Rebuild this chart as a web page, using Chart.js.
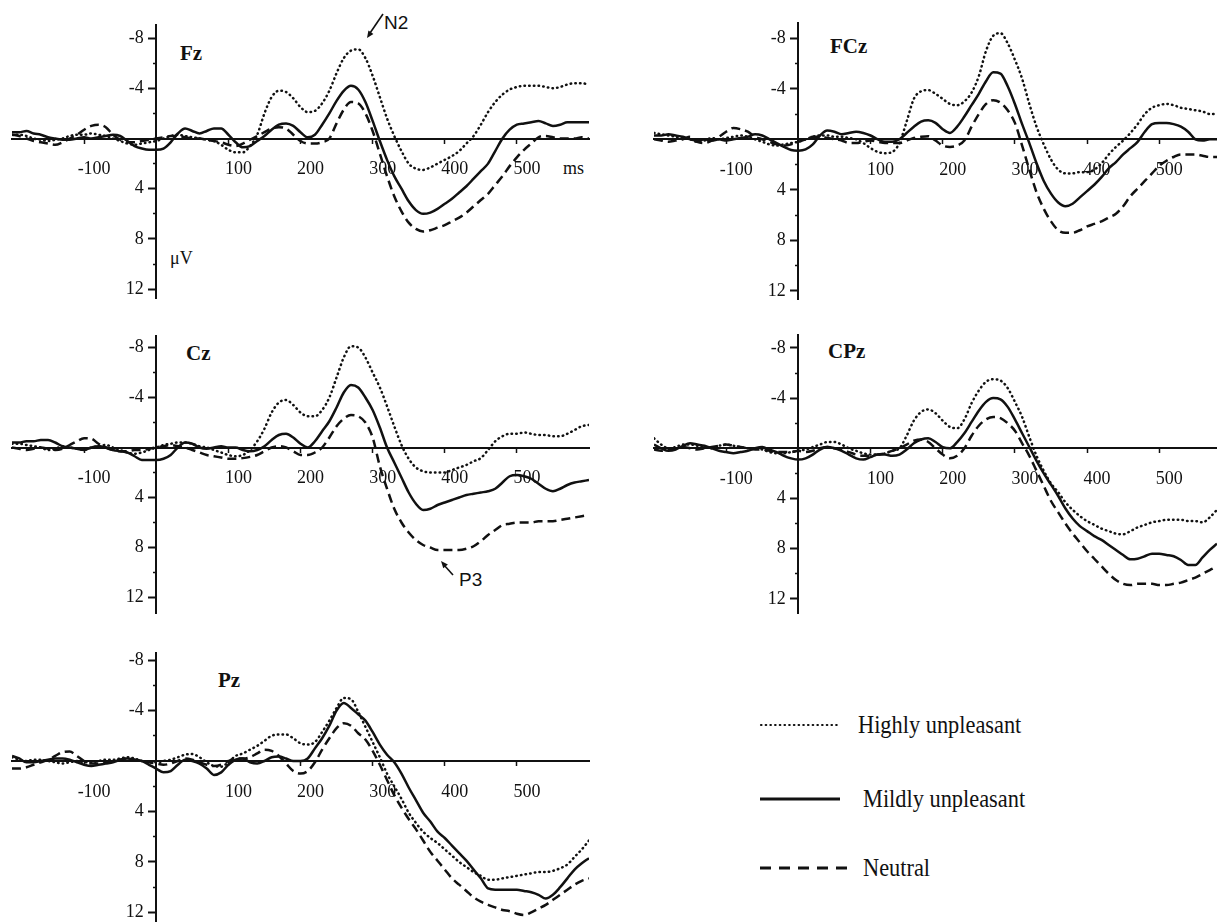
<!DOCTYPE html>
<html>
<head>
<meta charset="utf-8">
<title>ERP waveforms</title>
<script src="https://cdn.jsdelivr.net/npm/chart.js@4.4.1/dist/chart.umd.min.js"></script>
<style>
  html, body { margin: 0; padding: 0; background: #fff; }
  body { width: 1217px; height: 922px; position: relative; overflow: hidden;
         font-family: "Liberation Serif", "Times New Roman", serif; color: #111; }
  canvas { position: absolute; }
  .txt { position: absolute; white-space: nowrap; line-height: 1; transform: translateY(-50%); }
  .site { font-weight: bold; font-size: 21px; }
  .unit { font-size: 18px; }
  .note { font-family: "Liberation Sans", Arial, sans-serif; font-size: 19px; }
  .leg { font-size: 26px; transform: translateY(-50%) scaleX(0.86); transform-origin: left center; }
  svg { position: absolute; left: 0; top: 0; }
</style>
</head>
<body>

<div class="txt site" style="left:180px; top:53px;">Fz</div>
<div class="txt site" style="left:830px; top:46px;">FCz</div>
<div class="txt site" style="left:186px; top:353px;">Cz</div>
<div class="txt site" style="left:828px; top:351px;">CPz</div>
<div class="txt site" style="left:218px; top:680px;">Pz</div>

<div class="txt unit" style="left:170px; top:258px;">μV</div>
<div class="txt unit" style="left:563px; top:168px;">ms</div>

<div class="txt note" style="left:384px; top:22px;">N2</div>
<div class="txt note" style="left:459px; top:579px;">P3</div>

<div class="txt leg" style="left:858px; top:725px;">Highly unpleasant</div>
<div class="txt leg" style="left:863px; top:799px;">Mildly unpleasant</div>
<div class="txt leg" style="left:863px; top:868px;">Neutral</div>

<svg width="1217" height="922">
  <!-- annotation arrows -->
  <line x1="383" y1="14" x2="370" y2="33" stroke="#111" stroke-width="1.6"/>
  <polygon points="367,38 373.4,33.9 368.4,30.5" fill="#111"/>
  <line x1="453" y1="575" x2="444" y2="565" stroke="#111" stroke-width="1.6"/>
  <polygon points="441,561 447.9,564.4 443.3,568.3" fill="#111"/>
  <!-- legend samples -->
  <line x1="761" y1="725" x2="840" y2="725" stroke="#111" stroke-width="2.2" stroke-dasharray="0.5 4.2" stroke-linecap="round"/>
  <line x1="760" y1="799" x2="840" y2="799" stroke="#111" stroke-width="3"/>
  <line x1="760" y1="868" x2="847" y2="868" stroke="#111" stroke-width="3" stroke-dasharray="11 8"/>
</svg>

<canvas id="fz"></canvas>
<canvas id="fcz"></canvas>
<canvas id="cz"></canvas>
<canvas id="cpz"></canvas>
<canvas id="pz"></canvas>

<script>
// ── Data (µV, negative plotted upward) ───────────────────────────────────────
const TIME = [
  -200,-190,-180,-170,-160,-150,-140,-130,-120,-110,
  -100,-90,-80,-70,-60,-50,-40,-30,-20,-10,
  0,10,20,30,40,50,60,70,80,90,
  100,110,120,130,140,150,160,170,180,190,
  200,210,220,230,240,250,260,270,280,290,
  300,310,320,330,340,350,360,370,380,390,
  400,410,420,430,440,450,460,470,480,490,
  500,510,520,530,540,550,560,570,580,590,
  600
];
const X_TICKS = [-100, 100, 200, 300, 400, 500];
const Y_TICKS = [-8, -4, 4, 8, 12];
const Y_MINOR = [-6, -2, 2, 6, 10];
const SERIES = ['Highly unpleasant', 'Mildly unpleasant', 'Neutral'];

const FZ_HIGH = [
  -0.3,-0.3,-0.2,0,0.1,0.2,0.1,0,-0.2,-0.3,
  -0.3,-0.4,-0.3,-0.2,0,0.2,0.4,0.5,0.4,0.3,
  0.2,0,-0.2,-0.3,-0.2,-0.1,0,0.1,0.2,0.5,
  0.9,1.1,1.1,0.6,-0.3,-2.0,-3.3,-3.8,-3.7,-3.2,
  -2.5,-2.1,-2.2,-2.8,-3.8,-5.2,-6.4,-7.0,-7.1,-6.4,
  -5.0,-3.3,-1.6,-0.2,1.0,2.0,2.4,2.5,2.3,2.0,
  1.7,1.4,1.0,0.4,-0.2,-1.1,-2.1,-2.9,-3.5,-3.9,
  -4.1,-4.2,-4.2,-4.2,-4.1,-4.0,-4.1,-4.3,-4.4,-4.4,
  -4.3
];
const FZ_MILD = [
  -0.5,-0.5,-0.6,-0.4,-0.3,-0.1,0,0.1,0.1,0,
  -0.1,0,-0.1,-0.2,-0.3,-0.2,0.2,0.6,0.8,0.9,
  0.9,0.8,0.3,-0.4,-0.8,-0.6,-0.4,-0.6,-0.8,-0.8,
  -0.3,0.3,0.7,0.6,0.2,-0.2,-0.7,-1.1,-1.2,-1.0,
  -0.5,-0.1,-0.3,-1.1,-2.0,-3.0,-3.8,-4.2,-3.9,-2.9,
  -1.4,0.2,1.7,3.0,4.0,5.0,5.7,6.0,5.9,5.6,
  5.2,4.8,4.3,3.8,3.2,2.6,2.0,1.0,0.0,-0.7,
  -1.1,-1.2,-1.3,-1.4,-1.2,-1.0,-1.1,-1.3,-1.3,-1.3,
  -1.3
];
const FZ_NEUT = [
  -0.3,-0.2,0,0.2,0.3,0.4,0.5,0.3,0,-0.3,
  -0.7,-1.0,-1.1,-0.9,-0.3,0.1,0.3,0.3,0.2,0.1,
  0,-0.1,-0.2,-0.2,-0.1,0,0,0.1,0.2,0.3,
  0.5,0.6,0.4,0.1,-0.2,-0.5,-0.8,-0.9,-0.8,-0.3,
  0.2,0.4,0.4,0.3,0,-1.2,-2.3,-2.9,-2.8,-2.0,
  -0.6,1.2,3.0,4.6,5.8,6.7,7.2,7.4,7.3,7.1,
  6.9,6.6,6.3,5.9,5.4,4.9,4.4,3.7,3.0,2.2,
  1.5,0.9,0.4,-0.1,-0.2,-0.1,0,0,0,-0.1,
  0
];

// FCz and CPz are cut at the right edge (~580 ms)
const FCZ_HIGH = [
  -0.5,-0.4,-0.3,-0.2,-0.1,0,0.2,0.1,-0.1,0,
  -0.1,-0.2,-0.3,-0.2,0,0.2,0.4,0.5,0.4,0.3,
  0.2,0,-0.2,-0.3,-0.3,-0.2,-0.2,-0.1,0,0.3,
  0.7,1.0,1.1,1.0,0.3,-1.4,-3.2,-3.8,-3.9,-3.6,
  -3.2,-2.8,-2.7,-3.0,-3.7,-5.0,-7.0,-8.2,-8.4,-7.6,
  -6.3,-4.8,-2.8,-1.0,0.4,1.6,2.4,2.7,2.7,2.6,
  2.6,2.4,1.9,1.2,0.6,0.1,-0.5,-1.2,-2.0,-2.5,
  -2.7,-2.8,-2.7,-2.5,-2.4,-2.3,-2.2,-2.0,-2.0
];
const FCZ_MILD = [
  -0.3,-0.3,-0.4,-0.3,-0.2,0,0.1,0,0.1,0,
  0.1,0,-0.1,-0.2,-0.4,-0.3,0,0.3,0.6,0.85,
  0.9,0.8,0.4,-0.3,-0.7,-0.6,-0.4,-0.5,-0.6,-0.5,
  -0.3,0,0.2,0.2,0,-0.5,-1.0,-1.4,-1.5,-1.3,
  -0.8,-0.5,-1.0,-1.8,-2.7,-3.6,-4.6,-5.3,-5.2,-4.2,
  -2.8,-1.2,0.3,1.9,3.3,4.3,5.0,5.3,5.1,4.6,
  4.1,3.6,3.0,2.3,1.8,1.2,0.7,0.2,-0.6,-1.2,
  -1.3,-1.3,-1.2,-1.0,-0.6,0,0.1,0,0
];
const FCZ_NEUT = [
  0,0.1,0.2,0.1,0,-0.2,0.2,0.3,0.1,-0.2,
  -0.6,-0.9,-0.8,-0.6,-0.2,0,0.2,0.4,0.5,0.4,
  0.2,0,-0.2,-0.2,-0.1,0,0.1,0.3,0.3,0.2,
  0.1,0.2,0.3,0.3,0.3,0.1,-0.1,-0.2,-0.25,0.1,
  0.5,0.6,0.5,0.1,-1.0,-2.0,-2.8,-3.1,-2.9,-2.3,
  -1.3,0.5,2.4,4.2,5.5,6.5,7.2,7.4,7.4,7.2,
  6.9,6.7,6.5,6.2,5.9,5.3,4.5,3.9,3.3,2.7,
  2.1,1.7,1.4,1.2,1.2,1.2,1.3,1.4,1.4
];

const CZ_HIGH = [
  -0.3,-0.3,-0.2,-0.1,0,0.2,0.1,-0.1,0,0.1,
  0.2,0,-0.1,-0.2,0,0.2,0.4,0.5,0.4,0.2,
  0,-0.2,-0.3,-0.4,-0.4,-0.3,-0.1,0,0.2,0.4,
  0.6,0.7,0.6,0.2,-0.5,-1.5,-2.8,-3.6,-3.8,-3.4,
  -2.8,-2.5,-2.5,-3.0,-4.0,-5.6,-7.2,-8.1,-8.0,-7.2,
  -6.0,-4.8,-3.3,-1.7,-0.2,0.9,1.6,1.9,2.0,2.0,
  2.0,1.8,1.6,1.4,1.1,0.85,0.2,-0.5,-0.9,-1.1,
  -1.1,-1.2,-1.1,-1.0,-1.0,-0.9,-0.9,-1.1,-1.4,-1.7,
  -1.8
];
const CZ_MILD = [
  -0.4,-0.4,-0.5,-0.5,-0.6,-0.6,-0.4,-0.1,0,0.1,
  0.2,0,-0.1,0,0.2,0.3,0.4,0.7,1.0,1.0,
  1.0,0.9,0.6,0,-0.4,-0.3,0,0.1,0,-0.1,
  0,0,0.2,0.3,0.2,-0.1,-0.6,-1.0,-1.1,-0.8,
  -0.3,0,-0.5,-1.3,-2.1,-3.2,-4.4,-5.0,-4.8,-4.0,
  -3.0,-1.6,0,1.2,2.4,3.6,4.5,5.0,4.9,4.6,
  4.4,4.2,4.0,3.8,3.7,3.6,3.5,3.3,2.8,2.3,
  2.2,2.3,2.5,2.9,3.3,3.5,3.3,3.0,2.8,2.7,
  2.6
];
const CZ_NEUT = [
  0,0.1,0.2,0.1,0,0.1,0.2,0.1,-0.2,-0.5,
  -0.75,-0.7,-0.3,0,0.2,0.3,0.3,0.2,0.2,0.1,
  0,-0.1,-0.2,-0.1,0,0.2,0.4,0.6,0.7,0.8,
  0.9,0.9,0.85,0.75,0.6,0.3,0,-0.1,0,0.3,
  0.6,0.6,0.4,0,-0.8,-1.7,-2.3,-2.6,-2.5,-2.0,
  -0.8,1.5,3.3,4.9,6.0,6.8,7.4,7.8,8.0,8.2,
  8.2,8.2,8.2,8.1,7.9,7.5,7.0,6.6,6.2,6.1,
  6.0,6.0,6.0,5.9,5.9,5.9,5.8,5.7,5.6,5.5,
  5.4
];

const CPZ_HIGH = [
  -0.8,-0.3,0,-0.1,-0.3,-0.3,-0.2,-0.1,0,-0.2,
  -0.3,-0.2,-0.1,0,0,0.1,0.3,0.4,0.4,0.3,
  0.2,0.1,-0.1,-0.3,-0.5,-0.5,-0.3,0,0.2,0.4,
  0.5,0.5,0.4,0.2,0,-1.0,-2.2,-2.9,-3.1,-2.8,
  -2.2,-1.7,-1.6,-2.3,-3.6,-4.6,-5.3,-5.5,-5.4,-4.8,
  -3.7,-2.5,-0.9,0.6,1.8,2.8,3.5,4.3,4.9,5.4,
  5.8,6.1,6.4,6.6,6.8,6.85,6.6,6.3,6.1,5.9,
  5.8,5.7,5.7,5.7,5.8,5.8,5.9,5.5,4.9
];
const CPZ_MILD = [
  -0.3,0,0.2,0.1,-0.2,-0.4,-0.3,-0.2,0,0.2,
  0.3,0.4,0.3,0.2,0,-0.1,0.1,0.3,0.6,0.8,
  0.9,0.8,0.5,0.1,-0.1,0,0.2,0.5,0.8,0.9,
  0.7,0.5,0.5,0.6,0.5,0.1,-0.4,-0.7,-0.8,-0.5,
  -0.1,0,-0.5,-1.2,-2.1,-3.0,-3.7,-4.0,-3.9,-3.3,
  -2.3,-1.2,-0.1,1.0,2.0,2.9,3.8,4.8,5.6,6.2,
  6.6,7.0,7.3,7.7,8.1,8.5,8.85,8.8,8.6,8.4,
  8.4,8.5,8.6,8.9,9.3,9.3,8.7,8.1,7.6
];
const CPZ_NEUT = [
  0.1,0.2,0.1,0,-0.1,0,0.1,0,-0.1,-0.2,
  -0.3,-0.2,-0.1,0,0.1,0.1,0.2,0.3,0.3,0.3,
  0.2,0.3,0.2,0,-0.1,0,0.1,0.3,0.5,0.6,
  0.6,0.5,0.4,0.2,0,-0.3,-0.6,-0.7,-0.5,0,
  0.5,0.8,0.6,0,-1.0,-1.8,-2.3,-2.5,-2.4,-2.0,
  -1.4,-0.4,0.6,1.8,3.0,4.2,5.1,6.0,6.8,7.5,
  8.2,8.8,9.4,10.0,10.5,10.8,10.9,10.8,10.8,10.8,
  10.9,10.9,10.8,10.7,10.5,10.3,10.0,9.7,9.4
];

const PZ_HIGH = [
  -0.3,-0.1,0,-0.1,-0.1,0,0.1,0.2,0.1,0,
  0.1,0.1,0,-0.1,-0.1,-0.2,-0.3,-0.2,0,0.1,
  0.1,0,-0.1,-0.3,-0.5,-0.55,-0.3,0.1,0.4,0.45,
  0.1,-0.4,-0.6,-0.9,-1.2,-1.6,-2.0,-2.1,-2.1,-1.8,
  -1.4,-1.3,-1.5,-2.3,-3.2,-4.2,-5.0,-4.9,-3.9,-2.7,
  -1.5,-0.3,1.0,2.0,3.0,4.1,4.9,5.6,6.1,6.5,
  7.0,7.5,8.0,8.4,8.8,9.1,9.4,9.4,9.3,9.2,
  9.1,9.0,8.9,8.8,8.8,8.7,8.5,8.2,7.6,7.0,
  6.3
];
const PZ_MILD = [
  -0.4,-0.2,0.1,0.1,0,-0.1,-0.2,-0.2,-0.1,0.1,
  0.3,0.4,0.3,0.2,0.1,-0.1,-0.2,-0.1,0,0.3,
  0.6,0.9,0.8,0.3,-0.1,0,0.2,0.6,1.1,0.9,
  0.3,-0.1,-0.2,0.1,0.2,0,-0.3,-0.35,-0.2,0,
  0,-0.2,-1.0,-1.8,-2.8,-4.0,-4.6,-4.2,-3.7,-3.2,
  -2.3,-1.3,-0.5,0.1,1.0,2.1,3.1,4.1,4.8,5.6,
  6.1,6.7,7.3,7.9,8.6,9.3,10.1,10.2,10.2,10.2,
  10.2,10.3,10.4,10.6,10.9,10.6,10.0,9.3,8.6,8.1,
  7.7
];
const PZ_NEUT = [
  0.6,0.6,0.5,0.3,0.1,-0.1,-0.4,-0.7,-0.75,-0.4,
  0,0.2,0.2,0.1,0,-0.1,-0.2,-0.1,0,0.1,
  0.2,0.3,0.2,0,-0.2,-0.1,0.1,0.3,0.4,0.3,
  0,-0.2,-0.2,-0.3,-0.6,-0.9,-0.8,-0.4,0.2,0.8,
  1.0,0.8,0.1,-0.9,-1.8,-2.6,-3.0,-2.8,-2.2,-1.7,
  -0.8,0.3,1.5,2.7,3.7,4.6,5.4,6.3,7.2,7.9,
  8.6,9.3,9.8,10.3,10.8,11.15,11.4,11.6,11.8,11.9,
  12.1,12.2,12.0,11.7,11.4,11.0,10.6,10.2,9.8,9.5,
  9.3
];

// ── Panel layout (page pixels) ───────────────────────────────────────────────
// box: canvas [left, top, width, height]; area: plot area [left, top, right, bottom]
const PANELS = [
  { id: 'fz',  series: [FZ_HIGH, FZ_MILD, FZ_NEUT],    box: [0, 0, 600, 310],     area: [12, 25, 589, 298],     zeroY: 138.5, pxPerUv: 12.56, xMax: 600 },
  { id: 'fcz', series: [FCZ_HIGH, FCZ_MILD, FCZ_NEUT], box: [640, 0, 577, 310],   area: [654, 23, 1217, 299],   zeroY: 139.3, pxPerUv: 12.63, xMax: 580 },
  { id: 'cz',  series: [CZ_HIGH, CZ_MILD, CZ_NEUT],    box: [0, 320, 600, 300],   area: [12, 336, 589, 613],    zeroY: 447.5, pxPerUv: 12.5,  xMax: 600 },
  { id: 'cpz', series: [CPZ_HIGH, CPZ_MILD, CPZ_NEUT], box: [640, 320, 577, 300], area: [654, 335, 1217, 613],  zeroY: 448.3, pxPerUv: 12.55, xMax: 580 },
  { id: 'pz',  series: [PZ_HIGH, PZ_MILD, PZ_NEUT],    box: [0, 630, 600, 292],   area: [12, 653, 589, 922],    zeroY: 761,   pxPerUv: 12.62, xMax: 600 },
];

const LINE_STYLES = [
  { borderDash: [0.5, 4.2], borderCapStyle: 'round', borderWidth: 2.5 },
  { borderDash: [],         borderCapStyle: 'butt',  borderWidth: 2.5 },
  { borderDash: [9, 5],     borderCapStyle: 'butt',  borderWidth: 2.5 },
];

const INK = '#111';
const TICK_FONT = { family: '"Liberation Serif", "Times New Roman", serif', size: 18 };
// y labels are right-aligned on the axis line; the trailing spaces open the gap to the ticks
const Y_LABEL_GAP = '\u2002\u2009';

const noPad = (s) => { s.paddingLeft = 0; s.paddingRight = 0; s.paddingTop = 0; s.paddingBottom = 0; };

function buildPanel(p) {
    const [bx, by, bw, bh] = p.box;
    const [al, at, ar, ab] = p.area;
    const canvas = document.getElementById(p.id);
    canvas.width = bw;
    canvas.height = bh;
    canvas.style.left = bx + 'px';
    canvas.style.top = by + 'px';
    canvas.style.width = bw + 'px';
    canvas.style.height = bh + 'px';

    const yMin = (at - p.zeroY) / p.pxPerUv;
    const yMax = (ab - p.zeroY) / p.pxPerUv;

    const datasets = p.series.map((vals, i) => ({
        label: SERIES[i],
        data: vals.map((v, k) => ({ x: TIME[k], y: v })),
        borderColor: INK,
        pointRadius: 0,
        fill: false,
        cubicInterpolationMode: 'monotone',
        ...LINE_STYLES[i],
    }));

    new Chart(canvas, {
        type: 'line',
        data: { datasets },
        options: {
            responsive: false,
            animation: false,
            devicePixelRatio: 1,
            layout: { padding: { left: al - bx, top: at - by, right: bx + bw - ar, bottom: by + bh - ab } },
            plugins: { legend: { display: false }, tooltip: { enabled: false } },
            scales: {
                x: {
                    type: 'linear', min: -200, max: p.xMax,
                    position: { y: 0 },
                    afterBuildTicks: (s) => { s.ticks = X_TICKS.map(v => ({ value: v })); },
                    afterFit: noPad,
                    grid: { drawOnChartArea: false, drawTicks: true, tickLength: 4, tickWidth: 1.5, tickColor: INK },
                    border: { display: true, color: INK, width: 2 },
                    ticks: { autoSkip: false, maxRotation: 0, padding: 16, labelOffset: 10,
                             font: TICK_FONT, color: INK, callback: (v) => String(v) },
                },
                y: {
                    type: 'linear', reverse: true, min: yMin, max: yMax,
                    position: { x: 0 },
                    afterBuildTicks: (s) => { s.ticks = Y_TICKS.map(v => ({ value: v })); },
                    afterFit: noPad,
                    grid: { drawOnChartArea: false, drawTicks: true, tickLength: 7, tickWidth: 2, tickColor: INK },
                    border: { display: true, color: INK, width: 2 },
                    ticks: { autoSkip: false, font: TICK_FONT, color: INK, callback: (v) => String(v) + Y_LABEL_GAP },
                },
                yMinor: {
                    axis: 'y', type: 'linear', reverse: true, min: yMin, max: yMax,
                    position: { x: 0 },
                    afterBuildTicks: (s) => { s.ticks = Y_MINOR.map(v => ({ value: v })); },
                    afterFit: noPad,
                    grid: { drawOnChartArea: false, drawTicks: true, tickLength: 3, tickWidth: 1.5, tickColor: INK },
                    border: { display: false },
                    ticks: { display: false },
                },
            },
        },
    });
}

PANELS.forEach(buildPanel);
</script>
</body>
</html>
